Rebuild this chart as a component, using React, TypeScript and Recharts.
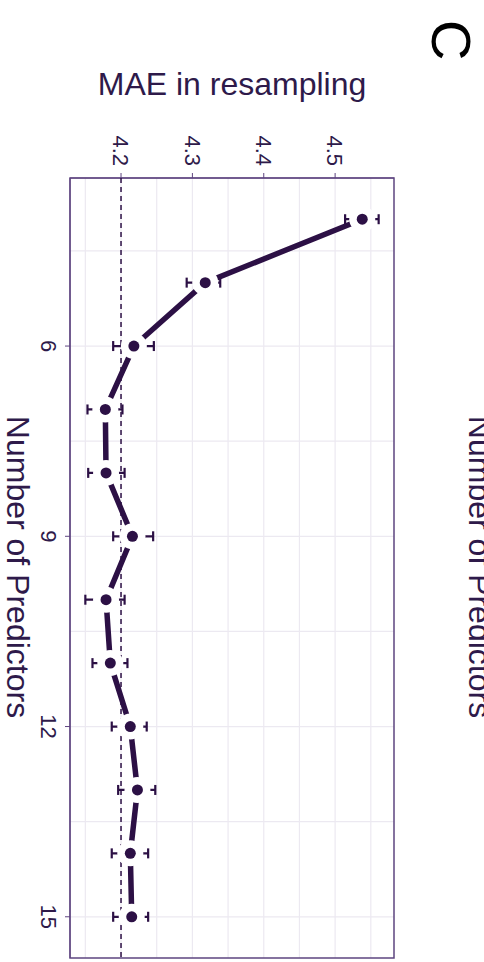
import React from 'react';
import {
  ComposedChart,
  Line,
  Scatter,
  XAxis,
  YAxis,
  ErrorBar,
  ReferenceLine,
  ReferenceArea,
} from 'recharts';

const predictors = [4, 5, 6, 7, 8, 9, 10, 11, 12, 13, 14, 15];
const maeMean = [4.538, 4.318, 4.218, 4.178, 4.179, 4.216, 4.179, 4.185, 4.213, 4.223, 4.213, 4.215];
const maeLower = [4.514, 4.292, 4.189, 4.153, 4.154, 4.189, 4.15, 4.16, 4.187, 4.196, 4.187, 4.189];
const maeUpper = [4.561, 4.339, 4.246, 4.202, 4.205, 4.245, 4.205, 4.209, 4.236, 4.248, 4.238, 4.238];

const xTicks = [6, 9, 12, 15];
const yTicks = [4.2, 4.3, 4.4, 4.5];
const xGrid = [4.5, 6, 7.5, 9, 10.5, 12, 13.5, 15];
const yGrid = [4.15, 4.2, 4.25, 4.3, 4.35, 4.4, 4.45, 4.5, 4.55];
const xDomain = [3.35, 15.65];
const yDomain = [4.1285, 4.5825];
const threshold = 4.2;

const data = predictors.map((n, i) => ({
  n,
  mae: maeMean[i],
  err: [maeMean[i] - maeLower[i], maeUpper[i] - maeMean[i]],
}));

// dashed threshold across the whole panel (drawn as a scatter line so the point halos sit on top)
const thresholdLine = xDomain.map((n) => ({ n, mae: threshold }));

const FONT = '"Liberation Sans", Arial, sans-serif';
const TEXT = '#2e1a4a';
const DARK = '#2c1045';
const AXIS = '#5e4580';
const GRID = '#ece9f1';

const W = 962;
const H = 484;

// white halo under each point, like the original figure
const PointShape = (props: any) => {
  const { cx, cy } = props;
  return (
    <g>
      <circle cx={cx} cy={cy} r={13} fill="#ffffff" />
      <circle cx={cx} cy={cy} r={5.5} fill={DARK} />
    </g>
  );
};

const NoShape = () => <g />;

const App = () => {
  return (
    <div style={{ position: 'absolute', top: 0, left: 0, width: H, height: W, overflow: 'hidden', background: '#fff' }}>
      <div
        style={{
          position: 'absolute',
          top: 0,
          left: 0,
          width: W,
          height: H,
          transformOrigin: '0 0',
          transform: `translateX(${H}px) rotate(90deg)`,
        }}
      >
        <ComposedChart
          width={W}
          height={H}
          data={data}
          margin={{ top: 90, right: 4, bottom: 0, left: 0 }}
          style={{ fontFamily: FONT }}
        >
          <XAxis
            dataKey="n"
            type="number"
            domain={xDomain}
            ticks={xTicks}
            allowDataOverflow
            height={70}
            tickSize={5}
            tickMargin={8}
            stroke={AXIS}
            tick={{ fill: TEXT, fontSize: 22 }}
          />
          <YAxis
            type="number"
            domain={yDomain}
            ticks={yTicks}
            allowDataOverflow
            width={178}
            tickSize={5}
            tickMargin={7}
            stroke={AXIS}
            tick={{ fill: TEXT, fontSize: 22 }}
            tickFormatter={(v: number) => v.toFixed(1)}
          />
          {xGrid.map((v) => (
            <ReferenceLine key={`gx-${v}`} x={v} stroke={GRID} strokeWidth={1.2} zIndex={-100} />
          ))}
          {yGrid.map((v) => (
            <ReferenceLine key={`gy-${v}`} y={v} stroke={GRID} strokeWidth={1.2} zIndex={-100} />
          ))}
          <ReferenceArea
            x1={xDomain[0]}
            x2={xDomain[1]}
            y1={yDomain[0]}
            y2={yDomain[1]}
            fill="none"
            fillOpacity={0}
            stroke={AXIS}
            strokeWidth={1.5}
            zIndex={-50}
          />
          <Line
            type="linear"
            dataKey="mae"
            stroke={DARK}
            strokeWidth={5.5}
            dot={false}
            activeDot={false}
            isAnimationActive={false}
            zIndex={300}
          >
            <ErrorBar
              dataKey="err"
              direction="y"
              width={5}
              strokeWidth={2.2}
              stroke={DARK}
              isAnimationActive={false}
              zIndex={300}
            />
          </Line>
          <Scatter
            data={thresholdLine}
            dataKey="mae"
            line={{ stroke: DARK, strokeWidth: 1.5, strokeDasharray: '5 4' }}
            lineType="joint"
            shape={<NoShape />}
            isAnimationActive={false}
            zIndex={800}
          />
          <Scatter dataKey="mae" shape={<PointShape />} isAnimationActive={false} zIndex={900} />
        </ComposedChart>
        <svg
          width={W}
          height={H}
          style={{ position: 'absolute', top: 0, left: 0, pointerEvents: 'none', fontFamily: FONT }}
        >
          <text x={20} y={52} fontSize={56} fill="#000">C</text>
          <text x={567} y={15} fontSize={32} fill={TEXT} textAnchor="middle">Number of Predictors</text>
          <text x={95} y={252} fontSize={32} fill={TEXT} textAnchor="middle" transform="rotate(-90, 95, 252)">
            MAE in resampling
          </text>
          <text x={567} y={477} fontSize={32} fill={TEXT} textAnchor="middle">Number of Predictors</text>
        </svg>
      </div>
    </div>
  );
};

export default App;
